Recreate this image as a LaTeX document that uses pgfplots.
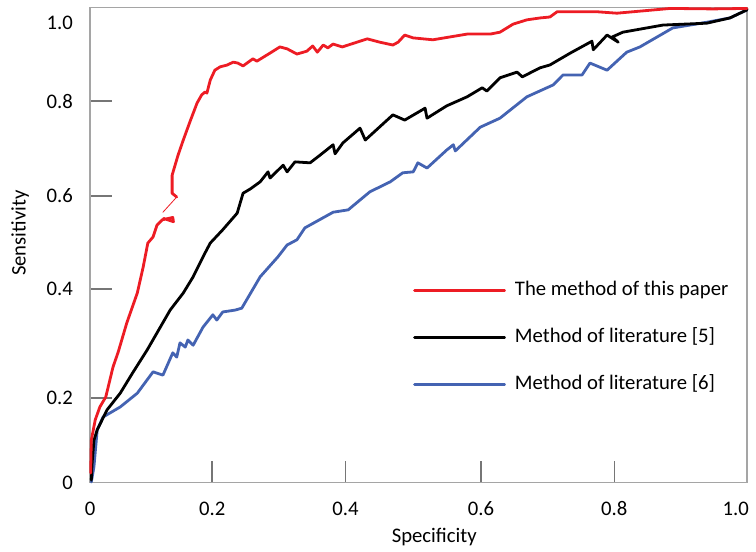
\documentclass[border=0pt]{standalone}
\usepackage{pgfplots}
\pgfplotsset{compat=1.18}
\usepackage{fontspec}
\setmainfont{Carlito}
\definecolor{cred}{RGB}{237,28,36}
\definecolor{cblue}{RGB}{68,99,178}
\definecolor{cspine}{RGB}{165,165,165}
\definecolor{ctick}{RGB}{118,118,118}
\begin{document}
\begin{tikzpicture}[font=\fontsize{20.7bp}{25bp}\selectfont]
\useasboundingbox (-90bp,-69.5bp) rectangle (666bp,482.5bp);
\begin{axis}[
  at={(0,0)}, anchor=south west,
  scale only axis, width=657bp, height=475bp,
  xmin=0, xmax=1, ymin=0, ymax=1,
  clip=false,
  axis line style={draw=cspine, line width=1.5bp},
  tick style={draw=ctick, line width=1.5bp},
  major tick length=22bp,
  tick align=inside,
  xtick pos=lower, ytick pos=left,
  xtick={0,0.186,0.389,0.595,0.798},
  xticklabels={0,0.2,0.4,0.6,0.8},
  extra x ticks={0.983}, extra x tick labels={1.0},
  extra x tick style={major tick length=0pt},
  ytick={0,0.178,0.407,0.603,0.803},
  yticklabels={0,0.2,0.4,0.6,0.8},
  extra y ticks={0.968}, extra y tick labels={1.0},
  extra y tick style={major tick length=0pt},
  xticklabel style={anchor=base, yshift=-33bp, inner sep=0pt},
  yticklabel style={anchor=east, inner sep=0pt, xshift=-17bp},
  xlabel={Specificity},
  xlabel style={at={(axis description cs:0.524,-0.127)}, anchor=base, inner sep=0pt},
  ylabel={Sensitivity},
  ylabel style={at={(axis description cs:-0.1065,0.525)}, anchor=center, inner sep=0pt},
  legend style={at={(axis description cs:0.4916,0.426)}, anchor=north west,
    draw=none, fill=none, inner sep=0pt, row sep=27bp, column sep=9bp,
    nodes={inner sep=0pt, text height=15bp, text depth=5bp}},
  legend cell align=left,
  reverse legend,
  legend image code/.code={\draw[#1] (0bp,0bp) -- (90bp,0bp);},
  every axis plot/.append style={line width=2.8bp, line join=round, line cap=round},
]
% Method of literature [6]
\addplot[cblue] coordinates {
(0.002,0.001) (0.006,0.033) (0.011,0.111) (0.020,0.138) (0.046,0.159)
(0.072,0.188) (0.096,0.233) (0.111,0.226) (0.126,0.273) (0.132,0.264)
(0.137,0.294) (0.145,0.285) (0.149,0.300) (0.157,0.289) (0.172,0.327)
(0.187,0.353) (0.193,0.342) (0.202,0.359) (0.221,0.363) (0.231,0.367)
(0.259,0.433) (0.286,0.475) (0.300,0.500) (0.315,0.511) (0.327,0.536)
(0.370,0.569) (0.393,0.574) (0.426,0.612) (0.457,0.633) (0.476,0.652)
(0.492,0.654) (0.499,0.673) (0.513,0.662) (0.543,0.700) (0.553,0.711)
(0.556,0.698) (0.594,0.748) (0.624,0.767) (0.665,0.812) (0.705,0.837)
(0.720,0.858) (0.749,0.858) (0.761,0.883) (0.787,0.868) (0.817,0.906)
(0.837,0.917) (0.887,0.957) (0.939,0.969) (0.974,0.978) (1.000,0.995)
};
\addlegendentry{Method of literature [6]}
% Method of literature [5]
\addplot[black] coordinates {
(0.002,0.005) (0.003,0.037) (0.006,0.089) (0.011,0.111) (0.026,0.153)
(0.046,0.188) (0.065,0.231) (0.087,0.279) (0.107,0.327) (0.122,0.363)
(0.142,0.399) (0.157,0.433) (0.172,0.475) (0.183,0.504) (0.202,0.532)
(0.224,0.567) (0.233,0.609) (0.244,0.618) (0.259,0.633) (0.271,0.654)
(0.274,0.641) (0.294,0.668) (0.300,0.654) (0.312,0.675) (0.335,0.673)
(0.350,0.689) (0.370,0.711) (0.373,0.692) (0.385,0.715) (0.411,0.746)
(0.419,0.721) (0.461,0.774) (0.479,0.763) (0.510,0.788) (0.513,0.767)
(0.543,0.793) (0.574,0.812) (0.597,0.831) (0.604,0.824) (0.624,0.852)
(0.650,0.864) (0.658,0.854) (0.685,0.873) (0.700,0.879) (0.731,0.904)
(0.764,0.929) (0.766,0.911) (0.787,0.942) (0.804,0.927) (0.795,0.938)
(0.811,0.948) (0.872,0.963) (0.939,0.967) (0.974,0.978) (1.000,0.995)
};
\addlegendentry{Method of literature [5]}
% The method of this paper (lower part)
\addplot[cred, forget plot] coordinates {
(0.001,0.020) (0.002,0.089) (0.008,0.132) (0.015,0.159) (0.024,0.180)
(0.035,0.243) (0.043,0.275) (0.056,0.336) (0.072,0.399) (0.081,0.454)
(0.088,0.504) (0.096,0.517) (0.102,0.542) (0.110,0.553) (0.126,0.558)
(0.127,0.549) (0.112,0.556)
};
\addplot[cred, line width=0.8bp, forget plot] coordinates {
(0.111,0.569) (0.132,0.601)
};
% The method of this paper (upper part)
\addplot[cred] coordinates {
(0.132,0.601) (0.125,0.609) (0.125,0.647) (0.134,0.689) (0.142,0.721)
(0.152,0.759) (0.163,0.799) (0.170,0.816) (0.175,0.822) (0.178,0.820)
(0.183,0.847) (0.190,0.868) (0.198,0.875) (0.209,0.879) (0.218,0.885)
(0.225,0.883) (0.233,0.877) (0.248,0.892) (0.254,0.887) (0.274,0.904)
(0.289,0.917) (0.300,0.913) (0.315,0.902) (0.330,0.908) (0.339,0.919)
(0.346,0.906) (0.355,0.921) (0.362,0.915) (0.370,0.923) (0.384,0.917)
(0.422,0.934) (0.441,0.927) (0.461,0.921) (0.469,0.927) (0.479,0.942)
(0.492,0.936) (0.522,0.932) (0.574,0.944) (0.609,0.944) (0.624,0.948)
(0.644,0.965) (0.665,0.974) (0.685,0.978) (0.700,0.980) (0.711,0.991)
(0.772,0.991) (0.802,0.988) (0.883,0.998) (0.948,0.997) (1.000,0.998)
};
\addlegendentry{The method of this paper}
\end{axis}
\end{tikzpicture}
\end{document}
